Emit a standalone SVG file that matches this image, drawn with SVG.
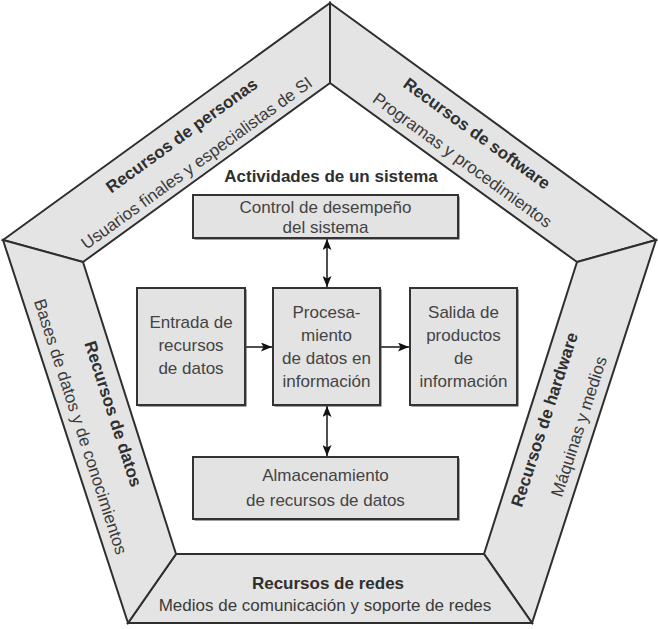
<svg xmlns="http://www.w3.org/2000/svg" width="658" height="629" viewBox="0 0 658 629">
<defs>
<style>
.band{fill:#e4e4e4;stroke:#2e2e2e;stroke-width:2;stroke-linejoin:miter}
.box{fill:#e3e3e3;stroke:#333;stroke-width:2}
.shd{fill:#444}
.bt{font-family:"Liberation Sans",Arial,sans-serif;font-size:17px;font-weight:bold;fill:#2f2f2f;text-anchor:middle}
.rt{font-family:"Liberation Sans",Arial,sans-serif;font-size:17px;fill:#3a3a3a;text-anchor:middle}
.tx{font-family:"Liberation Sans",Arial,sans-serif;font-size:17px;fill:#444;text-anchor:middle}
.con{stroke:#222;stroke-width:1.6;fill:none}
</style>
<marker id="ah" viewBox="0 0 11 9" refX="11" refY="4.5" markerWidth="11" markerHeight="9" markerUnits="userSpaceOnUse" orient="auto-start-reverse">
<path d="M0,0 L11,4.5 L0,9 L2.5,4.5 z" fill="#111"/>
</marker>
</defs>
<rect width="658" height="629" fill="#fff"/>
<g id="band-personas">
<polygon class="band" points="3,240 330,3 330,83 83,262"/>
<g transform="translate(166.5,121.5) rotate(-36)">
<text class="bt" x="4" y="26">Recursos de personas</text>
<text class="rt" x="0" y="57">Usuarios finales y especialistas de SI</text>
</g>
</g>
<g id="band-software">
<polygon class="band" points="330,3 656,240 577,262 330,83"/>
<g transform="translate(493,121.5) rotate(36)">
<text class="bt" x="-6" y="25">Recursos de software</text>
<text class="rt" x="-2" y="55">Programas y procedimientos</text>
</g>
</g>
<g id="band-hardware">
<polygon class="band" points="656,240 532,623 484,554 577,262"/>
<g transform="translate(594,431.5) rotate(-72)">
<text class="bt" x="-4" y="-45">Recursos de hardware</text>
<text class="rt" x="0" y="-10">Máquinas y medios</text>
</g>
</g>
<g id="band-redes">
<polygon class="band" points="532,623 128,623 176,554 484,554"/>
<text class="bt" x="328" y="589">Recursos de redes</text>
<text class="rt" x="325" y="611">Medios de comunicación y soporte de redes</text>
</g>
<g id="band-datos">
<polygon class="band" points="128,623 3,240 83,262 176,554"/>
<g transform="translate(65.5,431.5) rotate(72)">
<text class="bt" x="-2" y="-45">Recursos de datos</text>
<text class="rt" x="0" y="-10">Bases de datos y de conocimientos</text>
</g>
</g>
<g id="title">
<text class="bt" x="331" y="182">Actividades de un sistema</text>
</g>
<g id="connectors">
<line class="con" x1="327" y1="239" x2="327" y2="287" marker-start="url(#ah)" marker-end="url(#ah)"/>
<line class="con" x1="327" y1="406" x2="327" y2="456" marker-start="url(#ah)" marker-end="url(#ah)"/>
<line class="con" x1="246" y1="347" x2="272" y2="347" marker-end="url(#ah)"/>
<line class="con" x1="381" y1="347" x2="409" y2="347" marker-end="url(#ah)"/>
</g>
<g id="node-control">
<rect class="shd" x="194.5" y="196.5" width="265" height="43"/>
<rect class="box" x="193" y="195" width="265" height="43"/>
<text class="tx" x="325.5" y="213">Control de desempeño</text>
<text class="tx" x="325.5" y="233">del sistema</text>
</g>
<g id="node-entrada">
<rect class="shd" x="138.5" y="289.5" width="108" height="117"/>
<rect class="box" x="137" y="288" width="108" height="117"/>
<text class="tx" x="191" y="328">Entrada de</text>
<text class="tx" x="191" y="351">recursos</text>
<text class="tx" x="191" y="374">de datos</text>
</g>
<g id="node-procesamiento">
<rect class="shd" x="274.5" y="289.5" width="107" height="117"/>
<rect class="box" x="273" y="288" width="107" height="117"/>
<text class="tx" x="326.5" y="318">Procesa-</text>
<text class="tx" x="326.5" y="341">miento</text>
<text class="tx" x="326.5" y="364">de datos en</text>
<text class="tx" x="326.5" y="387">información</text>
</g>
<g id="node-salida">
<rect class="shd" x="411.5" y="289.5" width="107" height="117"/>
<rect class="box" x="410" y="288" width="107" height="117"/>
<text class="tx" x="463.5" y="318">Salida de</text>
<text class="tx" x="463.5" y="341">productos</text>
<text class="tx" x="463.5" y="364">de</text>
<text class="tx" x="463.5" y="387">información</text>
</g>
<g id="node-almacenamiento">
<rect class="shd" x="194.5" y="458.5" width="265" height="62"/>
<rect class="box" x="193" y="457" width="265" height="62"/>
<text class="tx" x="325.5" y="481">Almacenamiento</text>
<text class="tx" x="325.5" y="506">de recursos de datos</text>
</g>
</svg>
